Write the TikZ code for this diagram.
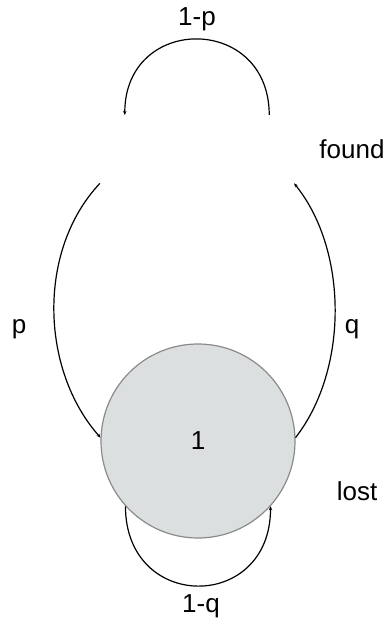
\documentclass[tikz,border=0pt]{standalone}
\usepackage{fontspec}
\setmainfont{Liberation Sans}
\usetikzlibrary{arrows.meta}
\definecolor{stfill}{HTML}{DCDFE0}
\definecolor{stline}{HTML}{8A8A8A}
\begin{document}
\begin{tikzpicture}[x=1pt,y=-1pt,
  every node/.style={font=\fontsize{26}{30}\selectfont},
  state/.style={circle,minimum size=194pt,inner sep=0pt},
  shown/.style={state,draw=stline,line width=1.2pt,fill=stfill},
  edge/.style={draw=black,line width=1.2pt,-{Stealth[length=4pt,width=3.5pt]}},
  lbl/.style={anchor=base,inner sep=0pt}]
\useasboundingbox (0,0) rectangle (390,620);
\node[state] (A) at (197,180) {};
\node[shown] (B) at (198,441) {1};
\draw[edge] (A.182) .. controls +(-63,67) and +(-60,-68) .. (B.178);
\draw[edge] (B.2) .. controls +(53,-68) and +(54,67) .. (A.358);
\draw[edge] (A.42) .. controls +(0,-101) and +(0,-101) .. (A.138);
\draw[edge] (B.222) .. controls +(0,106) and +(0,106) .. (B.318);
\node[lbl] (lp) at (197,26) {1-p};
\node[lbl] (lq) at (201,612) {1-q};
\node[lbl] (p) at (19,333) {p};
\node[lbl] (q) at (352,333) {q};
\node[lbl] (found) at (352,159) {found};
\node[lbl] (lost) at (357,500) {lost};
\end{tikzpicture}
\end{document}
